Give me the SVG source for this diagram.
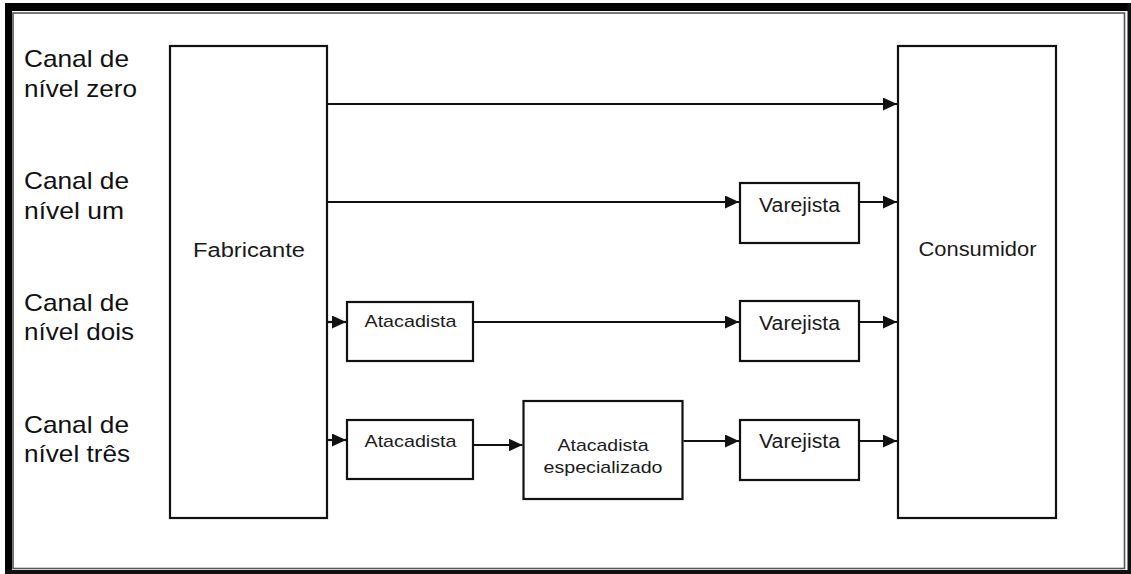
<svg xmlns="http://www.w3.org/2000/svg" width="1131" height="574" viewBox="0 0 1131 574">
<style>
.box{fill:#fff;stroke:#111;stroke-width:2.2}
.lbl{font-family:"Liberation Sans",Arial,sans-serif;font-size:24px;fill:#111}
.nt{font-family:"Liberation Sans",Arial,sans-serif;fill:#1a1a1a;text-anchor:middle}
.c{stroke:#111;stroke-width:2.2;fill:none;marker-end:url(#ah)}
</style>
<defs>
<marker id="ah" markerUnits="userSpaceOnUse" markerWidth="14" markerHeight="13" refX="14" refY="6.5" orient="auto">
<path d="M0,0 L14,6.5 L0,13 z" fill="#111"/>
</marker>
</defs>
<rect x="0" y="0" width="1131" height="574" fill="#fff"/>
<g id="frame">
<rect x="5" y="3" width="1126" height="8" fill="#000"/>
<rect x="5" y="3" width="7" height="571" fill="#000"/>
<rect x="1127.5" y="3" width="3.5" height="571" fill="#111"/>
<rect x="5" y="570" width="1126" height="4" fill="#111"/>
<rect x="13" y="13" width="1111.5" height="555.5" fill="none" stroke="#555" stroke-width="1.6"/>
</g>
<g id="labels">
<text class="lbl" x="24" y="67" textLength="105" lengthAdjust="spacingAndGlyphs">Canal de</text>
<text class="lbl" x="24" y="97" textLength="113" lengthAdjust="spacingAndGlyphs">nível zero</text>
<text class="lbl" x="24" y="189" textLength="105" lengthAdjust="spacingAndGlyphs">Canal de</text>
<text class="lbl" x="24" y="219" textLength="100" lengthAdjust="spacingAndGlyphs">nível um</text>
<text class="lbl" x="24" y="311" textLength="105" lengthAdjust="spacingAndGlyphs">Canal de</text>
<text class="lbl" x="24" y="340" textLength="110" lengthAdjust="spacingAndGlyphs">nível dois</text>
<text class="lbl" x="24" y="433" textLength="105" lengthAdjust="spacingAndGlyphs">Canal de</text>
<text class="lbl" x="24" y="462" textLength="106" lengthAdjust="spacingAndGlyphs">nível três</text>
</g>
<g id="fabricante">
<rect class="box" x="170" y="46" width="157" height="472"/>
<text class="nt" x="249" y="257" font-size="20" textLength="112" lengthAdjust="spacingAndGlyphs">Fabricante</text>
</g>
<g id="consumidor">
<rect class="box" x="898" y="46" width="158" height="472"/>
<text class="nt" x="977.5" y="256" font-size="20" textLength="118" lengthAdjust="spacingAndGlyphs">Consumidor</text>
</g>
<g id="varejista1">
<rect class="box" x="740" y="183" width="119" height="60"/>
<text class="nt" x="799.5" y="212" font-size="20" textLength="81" lengthAdjust="spacingAndGlyphs">Varejista</text>
</g>
<g id="varejista2">
<rect class="box" x="740" y="301" width="119" height="60"/>
<text class="nt" x="799.5" y="330" font-size="20" textLength="81" lengthAdjust="spacingAndGlyphs">Varejista</text>
</g>
<g id="varejista3">
<rect class="box" x="740" y="420" width="119" height="60"/>
<text class="nt" x="799.5" y="448" font-size="20" textLength="81" lengthAdjust="spacingAndGlyphs">Varejista</text>
</g>
<g id="atacadista1">
<rect class="box" x="347" y="302" width="126" height="59"/>
<text class="nt" x="410.5" y="327" font-size="17" textLength="92" lengthAdjust="spacingAndGlyphs">Atacadista</text>
</g>
<g id="atacadista2">
<rect class="box" x="347" y="420" width="126" height="59"/>
<text class="nt" x="410.5" y="447" font-size="17" textLength="92" lengthAdjust="spacingAndGlyphs">Atacadista</text>
</g>
<g id="atacadista-especializado">
<rect class="box" x="523.5" y="401" width="159" height="98"/>
<text class="nt" x="603" y="451" font-size="17" textLength="91" lengthAdjust="spacingAndGlyphs">Atacadista</text>
<text class="nt" x="603" y="473" font-size="17" textLength="119" lengthAdjust="spacingAndGlyphs">especializado</text>
</g>
<g id="connectors">
<line class="c" x1="328" y1="104" x2="897" y2="104"/>
<line class="c" x1="328" y1="202" x2="739" y2="202"/>
<line class="c" x1="860" y1="202" x2="897" y2="202"/>
<line class="c" x1="328" y1="322" x2="346" y2="322"/>
<line class="c" x1="474" y1="322" x2="739" y2="322"/>
<line class="c" x1="860" y1="322" x2="897" y2="322"/>
<line class="c" x1="328" y1="440" x2="346" y2="440"/>
<line class="c" x1="474" y1="445" x2="522.5" y2="445"/>
<line class="c" x1="683.5" y1="441" x2="739" y2="441"/>
<line class="c" x1="860" y1="441" x2="897" y2="441"/>
</g>
</svg>
